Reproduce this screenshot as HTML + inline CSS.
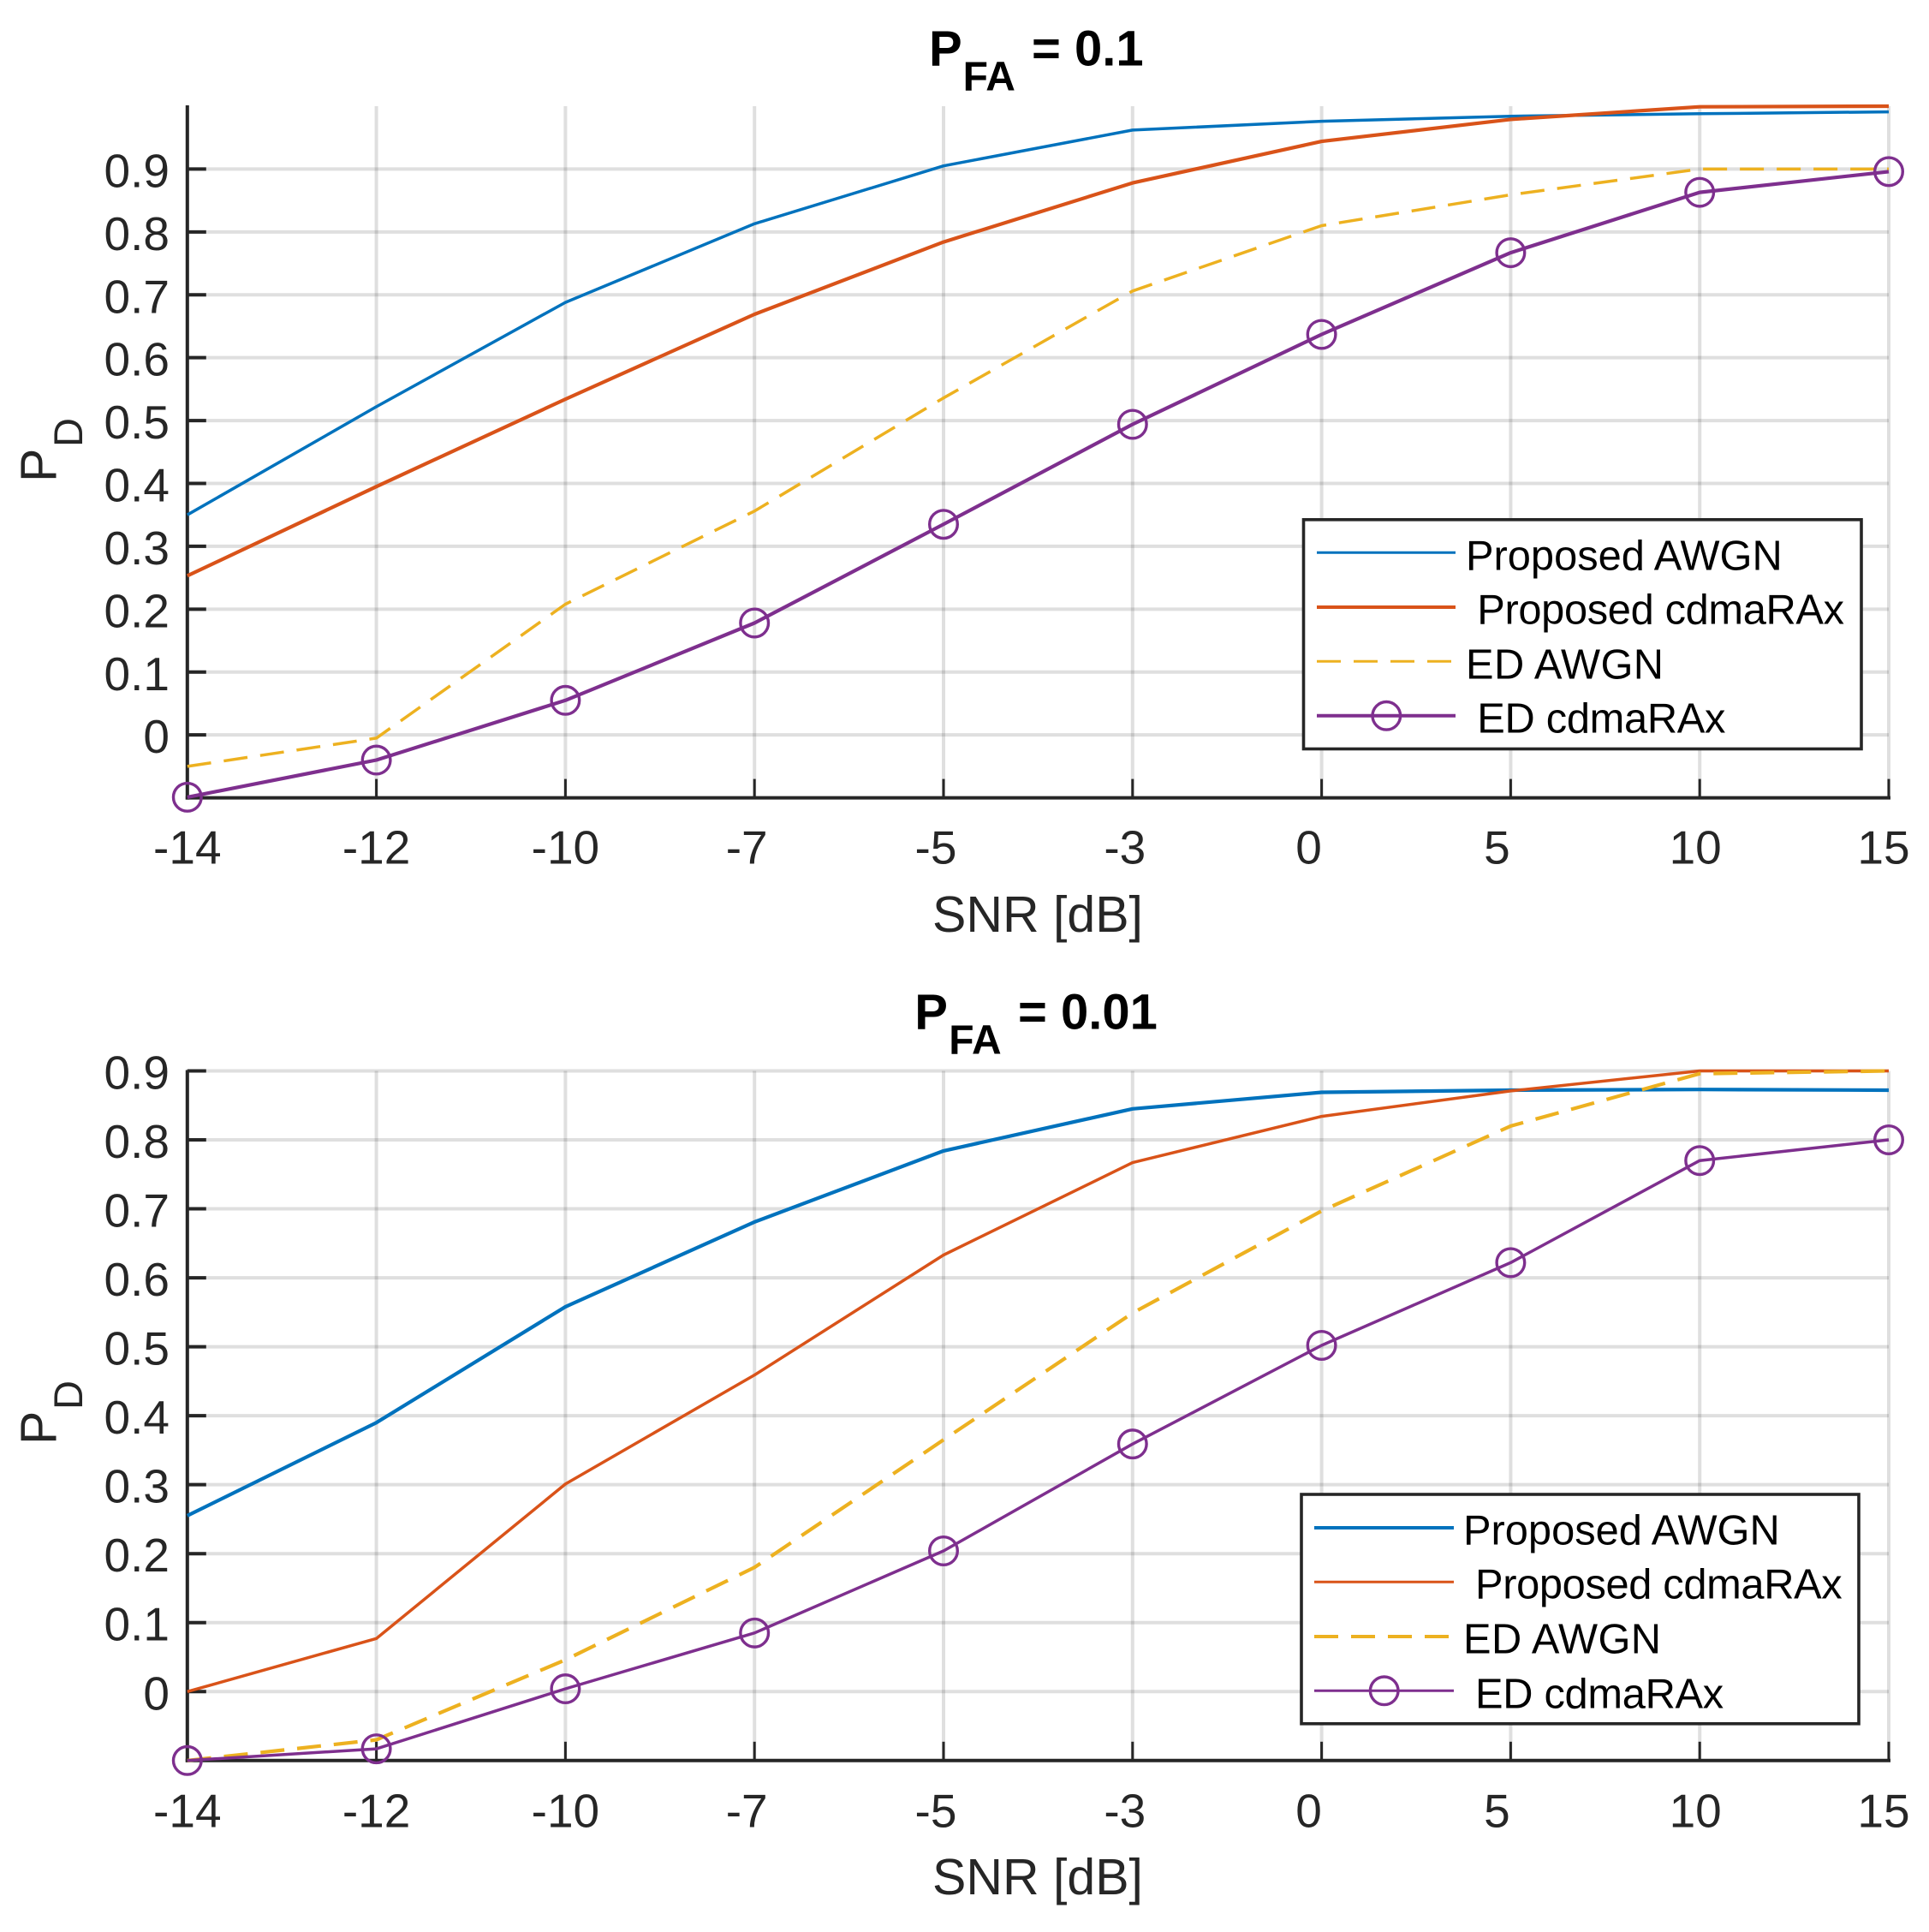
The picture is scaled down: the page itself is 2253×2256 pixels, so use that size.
<!DOCTYPE html>
<html lang="en">
<head>
<meta charset="utf-8">
<title>Detection probability vs SNR</title>
<style>
html,body{margin:0;padding:0;background:#fff}
svg{display:block}
text{font-family:"Liberation Sans",Arial,sans-serif}
.tick{font-size:55px;fill:#262626}
.axis-label{font-size:59px;fill:#262626}
.title{font-size:58px;font-weight:bold;fill:#000}
.title .sub{font-size:48px}
.leg{font-size:48.8px;fill:#000}
.tight-long{letter-spacing:-0.35px}
.tight-short{letter-spacing:-0.3px}
.wide-short{letter-spacing:0.4px}
</style>
</head>
<body>
<svg id="chart" xmlns="http://www.w3.org/2000/svg" width="2253" height="2256" viewBox="0 0 2253 2256">
  <rect x="0" y="0" width="2253" height="2256" fill="#fff"/>

  <g id="plot-top"></g>
  <g id="plot-bottom"></g>

  <text class="title" y="76.7"><tspan x="1085">P</tspan><tspan class="sub" x="1124.6" y="105.3">FA</tspan><tspan x="1205" y="76.7">= 0.1</tspan></text>
  <text class="title" y="1201.7"><tspan x="1068.3">P</tspan><tspan class="sub" x="1108.3" y="1230.7">FA</tspan><tspan x="1189" y="1201.7">= 0.01</tspan></text>

  <text class="axis-label" x="1212" y="1088" text-anchor="middle">SNR [dB]</text>
  <text class="axis-label" x="1212" y="2212" text-anchor="middle">SNR [dB]</text>

  <text class="axis-label" transform="translate(65.7,563) rotate(-90)">P<tspan font-size="47" x="41" y="30.3">D</tspan></text>
  <text class="axis-label" transform="translate(65.7,1687) rotate(-90)">P<tspan font-size="47" x="41" y="30.3">D</tspan></text>

  <g>
    <rect x="1522.5" y="606.8" width="651.5" height="267.7" fill="#fff" stroke="#262626" stroke-width="3.6"/>
    <line x1="1538" x2="1700" y1="645.3" y2="645.3" stroke="#0072BD" stroke-width="3"/>
    <text class="leg" x="1712" y="665.3">Proposed AWGN</text>
    <line x1="1538" x2="1700" y1="709" y2="709" stroke="#D95319" stroke-width="4"/>
    <text class="leg tight-long" x="1725.3" y="728.3">Proposed cdmaRAx</text>
    <line x1="1538" x2="1700" y1="772.3" y2="772.3" stroke="#EDB120" stroke-width="3" stroke-dasharray="28 15"/>
    <text class="leg wide-short" x="1712" y="792.3">ED AWGN</text>
    <line x1="1538" x2="1700" y1="835.7" y2="835.7" stroke="#7E2F8E" stroke-width="4"/>
    <circle cx="1619.3" cy="835.8" r="16.3" fill="none" stroke="#7E2F8E" stroke-width="3.4"/>
    <text class="leg tight-short" x="1725.3" y="855.7">ED cdmaRAx</text>
  </g>

  <g>
    <rect x="1520" y="1745" width="651" height="267.8" fill="#fff" stroke="#262626" stroke-width="3.6"/>
    <line x1="1535" x2="1698" y1="1784" y2="1784" stroke="#0072BD" stroke-width="4"/>
    <text class="leg" x="1709" y="1803.3">Proposed AWGN</text>
    <line x1="1535" x2="1698" y1="1847.3" y2="1847.3" stroke="#D95319" stroke-width="3"/>
    <text class="leg tight-long" x="1723" y="1866.7">Proposed cdmaRAx</text>
    <line x1="1535" x2="1698" y1="1911" y2="1911" stroke="#EDB120" stroke-width="4" stroke-dasharray="28 15"/>
    <text class="leg wide-short" x="1709" y="1930.7">ED AWGN</text>
    <line x1="1535" x2="1698" y1="1974.3" y2="1974.3" stroke="#7E2F8E" stroke-width="3"/>
    <circle cx="1616.7" cy="1974.3" r="16.3" fill="none" stroke="#7E2F8E" stroke-width="3.4"/>
    <text class="leg tight-short" x="1723" y="1994.3">ED cdmaRAx</text>
  </g>
</svg>

<script>
// Data
const snrLabels = ['-14','-12','-10','-7','-5','-3','0','5','10','15'];
const yTickLabels = ['0','0.1','0.2','0.3','0.4','0.5','0.6','0.7','0.8','0.9'];
const yTickValues = [0,0.1,0.2,0.3,0.4,0.5,0.6,0.7,0.8,0.9];

const topProposedAwgn    = [0.350,0.522,0.688,0.813,0.905,0.962,0.976,0.984,0.988,0.991];
const topProposedCdmaRax = [0.253,0.395,0.534,0.669,0.784,0.878,0.944,0.979,0.999,1.000];
const topEdAwgn          = [-0.050,-0.005,0.208,0.356,0.536,0.706,0.810,0.859,0.900,0.900];
const topEdCdmaRax       = [-0.099,-0.040,0.055,0.178,0.335,0.494,0.637,0.767,0.863,0.896];

const bottomProposedAwgn    = [0.255,0.390,0.558,0.681,0.784,0.845,0.869,0.872,0.873,0.872];
const bottomProposedCdmaRax = [0.000,0.077,0.301,0.459,0.633,0.767,0.834,0.871,0.900,0.900];
const bottomEdAwgn          = [-0.100,-0.070,0.046,0.180,0.365,0.549,0.697,0.820,0.896,0.900];
const bottomEdCdmaRax       = [-0.100,-0.083,0.004,0.085,0.204,0.359,0.502,0.622,0.770,0.800];

// Layout (not data)
const SVGNS = 'http://www.w3.org/2000/svg';
const xLabelNudge = {'-7':-9,'-5':-9,'-3':-9,'0':-15,'5':-16,'10':-5,'15':-6};
const COLORS = {blue:'#0072BD',orange:'#D95319',yellow:'#EDB120',purple:'#7E2F8E'};
const X_LEFT = 218.8, X_RIGHT = 2206;

function xScale(i){
  return X_LEFT + i * (X_RIGHT - X_LEFT) / (snrLabels.length - 1);
}
function makeYScale(vMin, vMax, pxBottom, pxTop){
  return function(v){ return pxBottom - (v - vMin) * (pxBottom - pxTop) / (vMax - vMin); };
}
function node(parent, tag, attrs){
  const el = document.createElementNS(SVGNS, tag);
  for (const k in attrs) el.setAttribute(k, attrs[k]);
  parent.appendChild(el);
  return el;
}

function drawSeries(g, prefix, key, values, yScale, color, width, dash, markers){
  const pts = values.map(function(v, i){ return xScale(i).toFixed(1) + ',' + yScale(v).toFixed(1); }).join(' ');
  const line = node(g, 'polyline', {points:pts, fill:'none', stroke:color, 'stroke-width':width, 'stroke-linejoin':'round'});
  
  
  if (dash) line.setAttribute('stroke-dasharray', dash);
  if (markers) {
    values.forEach(function(v, i){
      const c = node(g, 'circle', {cx:xScale(i), cy:yScale(v), r:16.3, fill:'none', stroke:color, 'stroke-width':3.4});
      
      
    });
  }
}

function drawPlot(g, prefix, yScale, pxTop, pxBottom, labelBaseline, series){
  // grid
  snrLabels.forEach(function(lbl, i){
    const gl = node(g, 'line', {x1:xScale(i), x2:xScale(i), y1:pxTop, y2:pxBottom, stroke:'#262626', 'stroke-opacity':0.15, 'stroke-width':4});
    
    
  });
  yTickValues.forEach(function(v, i){
    const gl = node(g, 'line', {x1:X_LEFT, x2:X_RIGHT, y1:yScale(v), y2:yScale(v), stroke:'#262626', 'stroke-opacity':0.15, 'stroke-width':4});
    
    
  });
  // axes
  const ya = node(g, 'line', {x1:X_LEFT, x2:X_LEFT, y1:pxTop - 1, y2:pxBottom + 2, stroke:'#262626', 'stroke-width':4});
  
  
  const xa = node(g, 'line', {x1:X_LEFT - 2, x2:X_RIGHT + 2, y1:pxBottom, y2:pxBottom, stroke:'#262626', 'stroke-width':4});
  
  
  // y ticks and labels
  yTickValues.forEach(function(v, i){
    const t = node(g, 'line', {x1:X_LEFT, x2:X_LEFT + 22, y1:yScale(v), y2:yScale(v), stroke:'#262626', 'stroke-width':4});
    
    
    const l = node(g, 'text', {x:198, y:yScale(v) + 21, 'text-anchor':'end', 'class':'tick'});
    
    
    l.textContent = yTickLabels[i];
  });
  // x ticks and labels
  snrLabels.forEach(function(lbl, i){
    const t = node(g, 'line', {x1:xScale(i), x2:xScale(i), y1:pxBottom - 22, y2:pxBottom, stroke:'#262626', 'stroke-width':3});
    
    
    const l = node(g, 'text', {x:xScale(i) + (xLabelNudge[lbl] || 0), y:labelBaseline, 'text-anchor':'middle', 'class':'tick'});
    
    
    l.textContent = lbl;
  });
  // series
  series.forEach(function(s){
    drawSeries(g, prefix, s.key, s.values, yScale, s.color, s.width, s.dash, s.markers);
  });
}

drawPlot(document.getElementById('plot-top'), 'top', makeYScale(-0.1, 1, 931.6, 124), 124, 931.6, 1008.3, [
  {key:'proposed-awgn', values:topProposedAwgn, color:COLORS.blue, width:3.5},
  {key:'proposed-cdmarax', values:topProposedCdmaRax, color:COLORS.orange, width:4.2},
  {key:'ed-awgn', values:topEdAwgn, color:COLORS.yellow, width:3.5, dash:'28 15'},
  {key:'ed-cdmarax', values:topEdCdmaRax, color:COLORS.purple, width:4.2, markers:true}
]);

drawPlot(document.getElementById('plot-bottom'), 'bottom', makeYScale(-0.1, 0.9, 2055.8, 1250.5), 1250.5, 2055.8, 2133.3, [
  {key:'proposed-awgn', values:bottomProposedAwgn, color:COLORS.blue, width:4.2},
  {key:'proposed-cdmarax', values:bottomProposedCdmaRax, color:COLORS.orange, width:3.5},
  {key:'ed-awgn', values:bottomEdAwgn, color:COLORS.yellow, width:4.2, dash:'28 15'},
  {key:'ed-cdmarax', values:bottomEdCdmaRax, color:COLORS.purple, width:3.5, markers:true}
]);
</script>
</body>
</html>
